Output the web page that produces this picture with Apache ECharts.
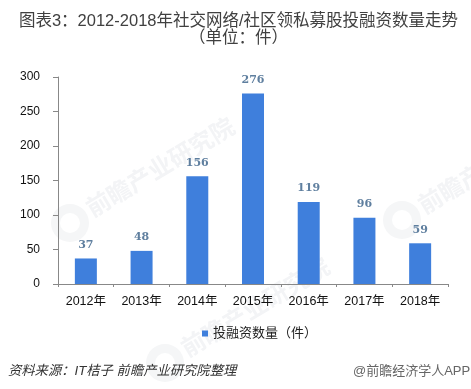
<!DOCTYPE html>
<html><head><meta charset="utf-8">
<style>html,body{margin:0;padding:0;background:#fff}#c{width:471px;height:389px}</style>
<script src="https://cdn.jsdelivr.net/npm/echarts@6/dist/echarts.min.js"></script>
</head><body><div id="c"></div>
<script>
const titleLines = "图表3：2012-2018年社交网络/社区领私募股投融资数量走势\n（单位：件）";
const categories = ["2012年","2013年","2014年","2015年","2016年","2017年","2018年"];
const values = [37,48,156,276,119,96,59];
const seriesName = "投融资数量（件）";
const yTicks = {min:0,max:300,interval:50};
const source = "资料来源：IT桔子 前瞻产业研究院整理";
const credit = "@前瞻经济学人APP";
const wm = "前瞻产业研究院";
const FF = '"Liberation Sans","Noto Sans CJK SC",sans-serif';
function mark(x,y){
  return [
    {type:'text',x:x,y:y,rotation:0.54,z:0,style:{text:wm,font:'bold 24px "Noto Sans CJK SC"',fill:'#f3f4f6',textAlign:'left',textVerticalAlign:'middle'}},
    {type:'ring',z:0,shape:{cx:x-18,cy:y+13,r:19,r0:10},style:{fill:'#f5f6f7'}}
  ];
}
const chart = echarts.init(document.getElementById('c'),null,{renderer:'canvas'});
chart.setOption({
  animation:false,
  backgroundColor:'#fff',
  title:{text:titleLines,left:233.5,top:8,textAlign:'center',textStyle:{fontFamily:FF,fontSize:16.5,fontWeight:'normal',color:'#404040',lineHeight:17}},
  grid:{left:58,right:23,top:77,bottom:105},
  legend:{top:322,left:197,itemWidth:6,itemHeight:6,itemGap:4,icon:'rect',selectedMode:false,
    textStyle:{fontFamily:FF,fontSize:13,color:'#222'}},
  xAxis:{type:'category',data:categories,axisTick:{show:true,length:3,lineStyle:{color:'#888'}},
    axisLine:{lineStyle:{color:'#888'}},axisLabel:{fontFamily:FF,fontSize:12.5,color:'#111',margin:11}},
  yAxis:{type:'value',min:yTicks.min,max:yTicks.max,interval:yTicks.interval,splitLine:{show:false},
    axisLine:{show:true,lineStyle:{color:'#888'}},axisTick:{show:true,length:5,lineStyle:{color:'#888'}},
    axisLabel:{fontFamily:FF,fontSize:12,color:'#111',margin:18}},
  series:[{name:seriesName,type:'bar',data:values,barWidth:22,z:3,itemStyle:{color:'#3f7fdc'},
    label:{show:true,position:'top',distance:8,fontFamily:'"DejaVu Serif",serif',fontSize:11,fontWeight:'bold',color:'#5f7f9f'}}],
  color:['#4f81bd'],
  graphic:[
    ...mark(88,210),...mark(183,350),...mark(420,207),
    {type:'text',x:8,y:371,style:{text:source,font:'italic 13.3px "Liberation Sans","Noto Sans CJK SC"',fill:'#333',textVerticalAlign:'middle'}},
    {type:'text',x:353,y:371,style:{text:credit,font:'13px "Liberation Sans","Noto Sans CJK SC"',fill:'#666',textVerticalAlign:'middle'}}
  ]
});
</script></body></html>
